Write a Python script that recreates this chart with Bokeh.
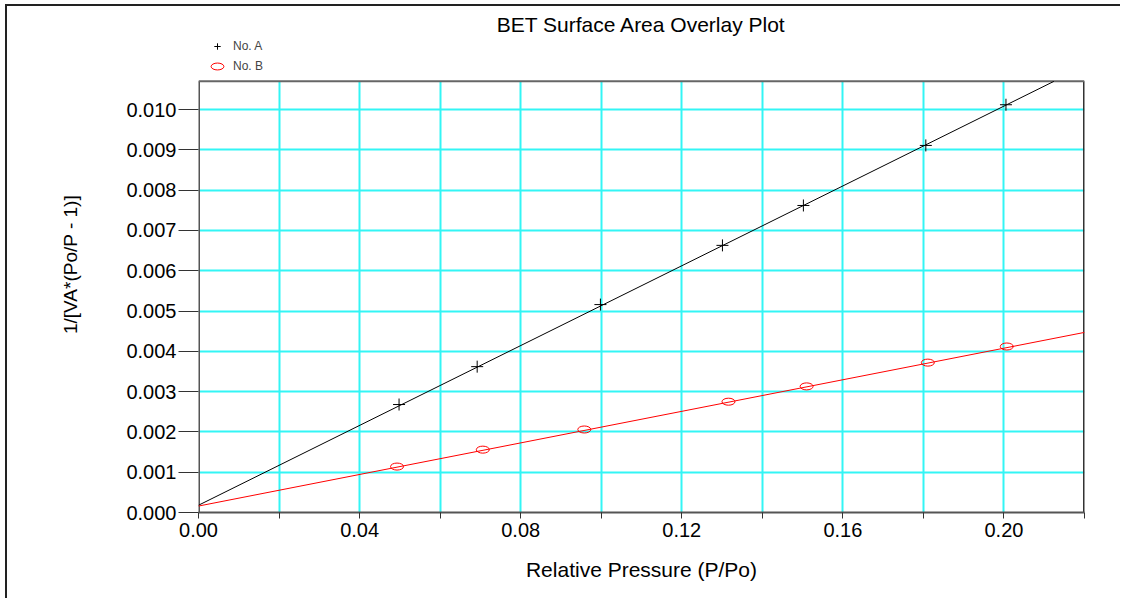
from bokeh.plotting import figure
from bokeh.models import FixedTicker, PrintfTickFormatter, Legend, LegendItem, Range1d, Label
from bokeh.embed import file_html
from bokeh.resources import INLINE

# ---- data ----
a_x = [0.0498, 0.0692, 0.0998, 0.1301, 0.1502, 0.1806, 0.2005]
a_y = [0.00268, 0.00362, 0.00516, 0.00663, 0.00762, 0.00911, 0.01012]
b_x = [0.0493, 0.0706, 0.0958, 0.1316, 0.1510, 0.1811, 0.2007]
b_y = [0.00114, 0.00156, 0.00206, 0.00275, 0.00313, 0.00372, 0.00412]
a_intercept, a_slope = 0.00018, 0.04953
b_intercept, b_slope = 0.00016, 0.01959
fit_x = [0.0, 0.22]
x_ticks = [0.00, 0.04, 0.08, 0.12, 0.16, 0.20]
x_minor = [0.02, 0.06, 0.10, 0.14, 0.18, 0.22]
y_ticks = [0.000, 0.001, 0.002, 0.003, 0.004, 0.005, 0.006, 0.007, 0.008, 0.009, 0.010]

# plotting box (data limits of the boxed area) and the extra headroom used for title/legend
X_MIN, X_MAX = 0.0, 0.22
Y_MIN, Y_BOX = 0.0, 0.0107
Y_TOP = 0.01231          # headroom above the box (title + legend area)
TITLE_Y = 0.01210

FONT = "Liberation Sans"
CYAN = "#33f5f5"
FRAME = "#555555"

p = figure(width=1115, height=594, output_backend="svg", toolbar_location=None,
           x_range=Range1d(X_MIN, X_MAX), y_range=Range1d(Y_MIN, Y_TOP),
           min_border_left=191, min_border_right=38, min_border_top=10, min_border_bottom=88,
           title=None)
p.styles = {"margin-left": "5px", "margin-top": "4px",
            "border-left": "2px solid #222", "border-top": "2px solid #222"}
p.outline_line_color = None

# axes
p.xaxis.ticker = FixedTicker(ticks=x_ticks, minor_ticks=x_minor)
p.xaxis.formatter = PrintfTickFormatter(format="%.2f")
p.yaxis.ticker = FixedTicker(ticks=y_ticks, minor_ticks=[])
p.yaxis.formatter = PrintfTickFormatter(format="%.3f")
for ax in (p.xaxis, p.yaxis):
    ax.axis_line_color = FRAME
    ax.axis_line_width = 2
    ax.major_tick_line_color = "#333333"
    ax.minor_tick_line_color = "#333333"
    ax.major_label_text_font = FONT
    ax.major_label_text_font_size = "20px"
    ax.major_label_text_color = "black"
    ax.axis_label_text_font = FONT
    ax.axis_label_text_font_size = "21px"
    ax.axis_label_text_font_style = "normal"
    ax.axis_label_text_color = "black"
p.yaxis.axis_line_color = None
p.xaxis.major_tick_in = 0
p.xaxis.major_tick_out = 6
p.xaxis.minor_tick_in = 0
p.xaxis.minor_tick_out = 6
p.xaxis.major_label_standoff = 4
p.xaxis.axis_label = "Relative Pressure (P/Po)"
p.xaxis.axis_label_standoff = 18
p.yaxis.major_tick_in = 0
p.yaxis.major_tick_out = 20
p.yaxis.major_label_standoff = 2
p.yaxis.axis_label = "1/[VA*(Po/P - 1)]"
p.yaxis.axis_label_text_font_size = "19px"
p.yaxis.axis_label_standoff = 42

# grid
p.xgrid.ticker = FixedTicker(ticks=sorted(x_ticks + x_minor))
p.xgrid.grid_line_color = CYAN
p.xgrid.grid_line_width = 2
p.xgrid.cross_bounds = (Y_MIN, Y_BOX)
p.ygrid.ticker = FixedTicker(ticks=y_ticks)
p.ygrid.grid_line_color = CYAN
p.ygrid.grid_line_width = 2

# box edges (left and right half-clipped at the frame edge, top inside)
p.line([X_MIN, X_MIN], [Y_MIN, Y_BOX], line_color=FRAME, line_width=3)
p.line([X_MAX, X_MAX], [Y_MIN, Y_BOX], line_color="#333333", line_width=3)
p.line([X_MIN, X_MAX], [Y_BOX, Y_BOX], line_color="#666666", line_width=2)

# fit lines (clipped at the top of the box)
a_fit = [a_intercept + a_slope * x for x in fit_x]
b_fit = [b_intercept + b_slope * x for x in fit_x]
a_end = (Y_BOX - a_intercept) / a_slope
p.line([fit_x[0], a_end], [a_fit[0], Y_BOX], line_color="black", line_width=1)
p.line(fit_x, b_fit, line_color="red", line_width=1)

# points
ra = p.scatter(a_x, a_y, marker="cross", size=12, line_color="black", line_width=1)
rb = p.ellipse(b_x, b_y, width=13, height=7, width_units="screen", height_units="screen",
               fill_color=None, line_color="red", line_width=1)

legend = Legend(items=[LegendItem(label="No. A", renderers=[ra]),
                       LegendItem(label="No. B", renderers=[rb])],
                location=(11, 436), orientation="vertical",
                background_fill_alpha=0, border_line_alpha=0,
                label_text_font=FONT, label_text_font_size="12px",
                glyph_width=16, glyph_height=20, label_height=12,
                label_standoff=8, spacing=0, padding=0, margin=0)
p.add_layout(legend, "center")

p.add_layout(Label(x=(X_MIN + X_MAX) / 2, y=TITLE_Y, text="BET Surface Area Overlay Plot",
                   text_align="center", text_baseline="middle",
                   text_font=FONT, text_font_size="21px", text_color="black"))

open("out.html", "w").write(file_html(p, INLINE))
